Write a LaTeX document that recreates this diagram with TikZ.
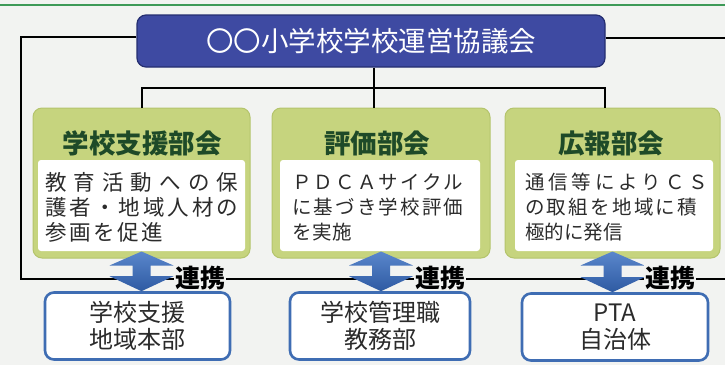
\documentclass[tikz,border=0pt]{standalone}
\usepackage{fontspec}
\setmainfont{Noto Sans CJK JP}
\usetikzlibrary{calc}
\definecolor{bg}{HTML}{F2F3F1}
\definecolor{topgreen}{HTML}{3E9A58}
\definecolor{navy}{HTML}{3E4AA2}
\definecolor{navyedge}{HTML}{252E70}
\definecolor{leaf}{HTML}{C6D47E}
\definecolor{leafedge}{HTML}{B4C46C}
\definecolor{headgreen}{HTML}{1E4A28}
\definecolor{ink}{HTML}{2B2B2B}
\definecolor{boxblue}{HTML}{3F6DB3}
\definecolor{arrowtop}{HTML}{5A87CC}
\definecolor{arrowbot}{HTML}{2E5AA2}
\newdimen\trk
\def\sploop#1{\ifx#1\relax\else#1\hfil\expandafter\sploop\fi}
\def\trloop#1{\ifx#1\relax\else#1\kern\trk\expandafter\trloop\fi}
\newcommand\jline[2]{\hbox to #1{\sploop#2\relax\unskip}}
\newcommand\tline[2]{\trk=#1\relax\hbox{\trloop#2\relax\unkern}}
\newcommand\dblarrow[2]{%
  \shade[top color=arrowtop, bottom color=arrowbot]
    let \p1=(#1), \p2=(#2) in
    (\x1,\y1) -- (\x1+32pt,\y1-14pt) -- (\x1+9pt,\y1-14pt) -- (\x1+9pt,\y2+15pt)
    -- (\x1+32pt,\y2+15pt) -- (\x1,\y2) -- (\x1-32pt,\y2+15pt) -- (\x1-9pt,\y2+15pt)
    -- (\x1-9pt,\y1-14pt) -- (\x1-32pt,\y1-14pt) -- cycle;}
\begin{document}
\begin{tikzpicture}[x=1pt,y=-1pt,
 conn/.style={line width=2.3pt, black},
 frame/.style={line width=1.7pt, black},
 titlebox/.style={draw=navyedge, line width=1.2pt, fill=navy, rounded corners=9pt,
   minimum width=468pt, minimum height=52pt, inner sep=0pt, text=white,
   font=\fontsize{27.5pt}{30pt}\selectfont},
 groupbox/.style={draw=leafedge, line width=1pt, fill=leaf, rounded corners=9pt,
   minimum height=150pt, inner sep=0pt},
 innerbox/.style={fill=white, rounded corners=3pt, minimum height=91pt, inner sep=0pt},
 headtext/.style={text=headgreen, font=\bfseries\fontsize{26.5pt}{30pt}\selectfont, inner sep=0pt},
 bodytext/.style={text=ink, align=left, inner sep=0pt, anchor=west},
 partner/.style={draw=boxblue, line width=2.6pt, fill=white, rounded corners=9pt,
   minimum height=67pt, inner sep=0pt, align=center, text=ink,
   font=\fontsize{24pt}{27pt}\selectfont},
 linktext/.style={fill=bg, inner sep=1pt, font=\bfseries\fontsize{25pt}{28pt}\selectfont}
]
\useasboundingbox (0,0) rectangle (725,365);
\fill[bg] (0,0) rectangle (725,365);
\draw[topgreen, line width=2.5pt] (0,5) -- (725,5);

\node[titlebox] (title) at (371,41) {〇〇小学校学校運営協議会};

\node[groupbox, minimum width=217pt] (g1) at (141.5,183) {};
\node[groupbox, minimum width=218pt] (g2) at (381,183) {};
\node[groupbox, minimum width=215pt] (g3) at (612.5,183) {};

% frame
\coordinate (ftl) at (21,37);
\coordinate (fbl) at (21,279);
\coordinate (fbr) at (725,279);
\coordinate (ftr) at (725,38);
\draw[frame] (title.west |- ftl) -- (ftl) -- (fbl) -- (fbr);
\draw[frame] (title.east |- ftr) -- (ftr);

% tree
\coordinate (j1) at (142,88);
\coordinate (j2) at (374,88);
\coordinate (j3) at (605,88);
\draw[conn] (title.south -| j2) -- (j2);
\draw[conn] (j1 |- g1.north) -- (j1) -- (j3) -- (j3 |- g3.north);
\draw[conn] (j2) -- (j2 |- g2.north);

\node[innerbox, minimum width=207pt] (w1) at (141.5,205.5) {};
\node[innerbox, minimum width=200pt] (w2) at (380,205.5) {};
\node[innerbox, minimum width=198pt] (w3) at (614,205.5) {};

\node[headtext] (h1) at (142,143) {学校支援部会};
\node[headtext] (h2) at (377,143) {評価部会};
\node[headtext] (h3) at (611,143) {広報部会};

\node[bodytext, font=\fontsize{21.5pt}{25pt}\selectfont] (t1) at (45,207)
  {\jline{193pt}{教育活動への保}\\ \jline{193pt}{護者・地域人材の}\\ \tline{2.5pt}{参画を促進}};
\node[bodytext, font=\fontsize{19.5pt}{25pt}\selectfont] (t2) at (292,207)
  {\jline{171pt}{ＰＤＣＡサイクル}\\ \jline{171pt}{に基づき学校評価}\\ \tline{0.5pt}{を実施}};
\node[bodytext, font=\fontsize{19.5pt}{25pt}\selectfont] (t3) at (525,207)
  {\jline{183pt}{通信等によりＣＳ}\\ \jline{172pt}{の取組を地域に積}\\ \tline{0pt}{極的に発信}};

\node[partner, minimum width=185pt] (b1) at (137.5,326) {学校支援\\地域本部};
\node[partner, minimum width=180pt] (b2) at (380,326) {学校管理職\\教務部};
\node[partner, minimum width=186pt] (b3) at (615,327) {PTA\\自治体};

\dblarrow{[yshift=7pt]g1.south}{g1.south |- b1.north}
\dblarrow{[yshift=7pt]g2.south}{g2.south |- b2.north}
\dblarrow{[yshift=7pt]g3.south}{g3.south |- b3.north}

\node[linktext] (l1) at (200,278) {連携};
\node[linktext] (l2) at (440,278) {連携};
\node[linktext] (l3) at (670,278) {連携};
\end{tikzpicture}
\end{document}
